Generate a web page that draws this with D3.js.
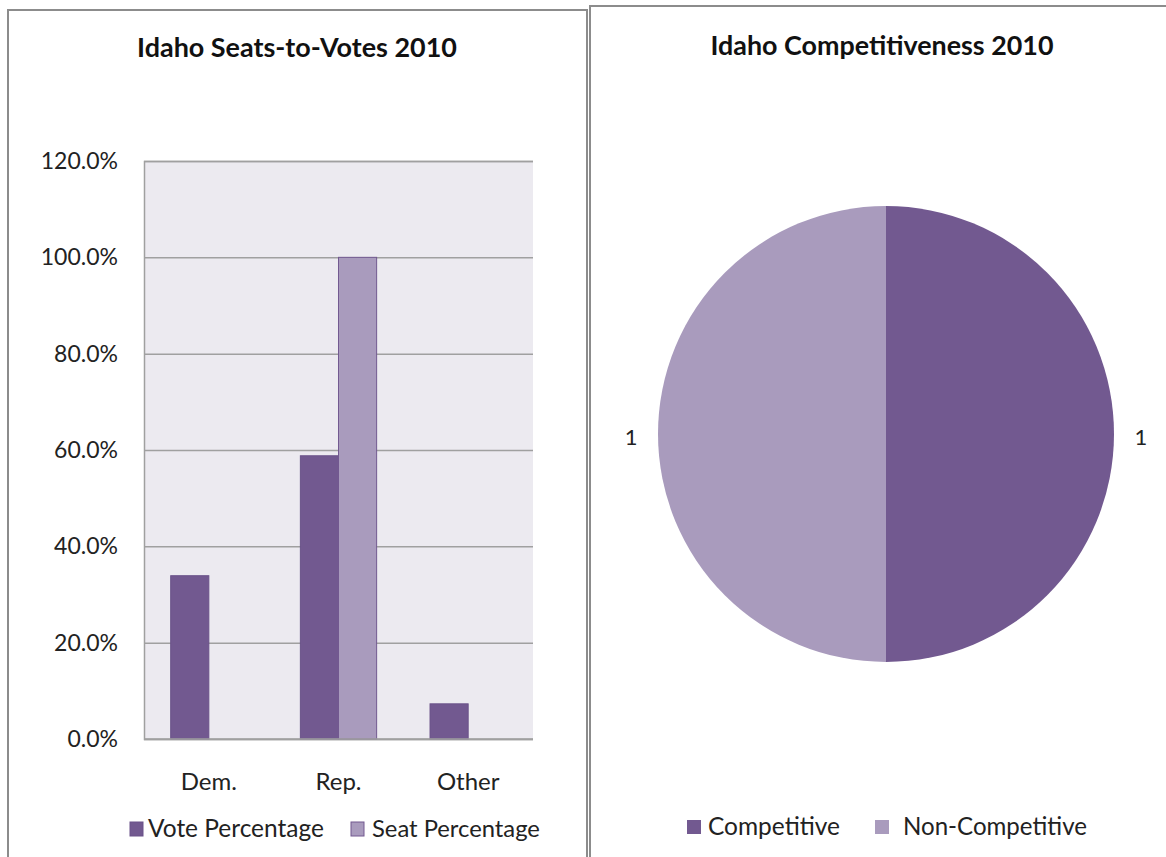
<!DOCTYPE html>
<html>
<head>
<meta charset="utf-8">
<script src="https://cdn.jsdelivr.net/npm/d3@7"></script>
<style>
  html, body { margin: 0; padding: 0; background: #fff; }
  svg { display: block; font-family: Lato, "Open Sans", sans-serif; }
</style>
</head>
<body>
<svg id="chart" width="1166" height="857"></svg>
<script>
// ---- data ----
const barTitle = "Idaho Seats-to-Votes 2010";
const pieTitle = "Idaho Competitiveness 2010";
const categories = ["Dem.", "Rep.", "Other"];
const seriesNames = ["Vote Percentage", "Seat Percentage"];
const votePercentage = [33.9, 58.8, 7.3];
const seatPercentage = [0, 100, 0];
const yTicks = [0, 20, 40, 60, 80, 100, 120];
const pieLabels = ["Competitive", "Non-Competitive"];
const pieValues = [1, 1];

const colors = ["#725990", "#A99BBD"];
const strokes = ["#6a5289", "#725990"];

const svg = d3.select("#chart");

function fit(sel, target) {
  const node = sel.node();
  let fs = parseFloat(sel.attr("font-size"));
  const w = node.getComputedTextLength();
  if (w > 0) sel.attr("font-size", (fs * target / w).toFixed(2));
  return sel;
}

// ---- panel borders ----
svg.append("rect").attr("x", 8).attr("y", 10).attr("width", 579).attr("height", 870)
  .attr("fill", "#fff").attr("stroke", "#8c8c8c").attr("stroke-width", 2);
svg.append("rect").attr("x", 590).attr("y", 6).attr("width", 600).attr("height", 880)
  .attr("fill", "#fff").attr("stroke", "#8c8c8c").attr("stroke-width", 2);

// ---- bar chart ----
const plot = { left: 144, right: 533, top: 161, bottom: 739 };
const x0 = d3.scaleBand().domain(categories).range([plot.left, plot.right]).paddingInner(0).paddingOuter(0);
const x1 = d3.scaleBand().domain(seriesNames).range([0, x0.bandwidth() * 0.5882]);
const y = d3.scaleLinear().domain([0, 120]).range([plot.bottom, plot.top]);

svg.append("rect").attr("x", plot.left).attr("y", plot.top)
  .attr("width", plot.right - plot.left).attr("height", plot.bottom - plot.top)
  .attr("fill", "#ECEAF0");

const yAxis = d3.axisLeft(y).tickValues(yTicks)
  .tickSize(-(plot.right - plot.left)).tickPadding(26)
  .tickFormat(d => d.toFixed(1) + "%");
const gy = svg.append("g").attr("transform", `translate(${plot.left},0)`).call(yAxis);
gy.select(".domain").attr("stroke", "#a0a0a0").attr("stroke-width", 1.5);
gy.selectAll(".tick line").attr("stroke", "#a0a0a0").attr("stroke-width", 1.5);
gy.selectAll(".tick text").attr("font-size", 23).attr("fill", "#222")
  .attr("font-family", "Lato, sans-serif");

const groupOffset = (x0.bandwidth() - x1.range()[1]) / 2;
const barData = [];
categories.forEach((c, i) => {
  [votePercentage, seatPercentage].forEach((arr, j) => {
    if (arr[i] > 0) barData.push({ c, s: seriesNames[j], v: arr[i], j });
  });
});
svg.append("g").selectAll("rect").data(barData).join("rect")
  .attr("x", d => x0(d.c) + groupOffset + x1(d.s))
  .attr("y", d => y(d.v))
  .attr("width", x1.bandwidth())
  .attr("height", d => y(0) - y(d.v))
  .attr("fill", d => colors[d.j])
  .attr("stroke", d => strokes[d.j]).attr("stroke-width", 1);

// baseline
svg.append("line").attr("x1", plot.left).attr("x2", plot.right)
  .attr("y1", y(0)).attr("y2", y(0)).attr("stroke", "#a0a0a0").attr("stroke-width", 1.5);

const xAxis = d3.axisBottom(x0).tickSize(0).tickPadding(34);
const gx = svg.append("g").attr("transform", `translate(0,${plot.bottom})`).call(xAxis);
gx.select(".domain").remove();
gx.selectAll(".tick text").attr("font-size", 24).attr("fill", "#222")
  .attr("font-family", "Lato, sans-serif");

// bar title
fit(svg.append("text").attr("x", 297).attr("y", 57).attr("text-anchor", "middle")
  .attr("font-size", 20).attr("font-weight", "bold").attr("fill", "#111").text(barTitle), 320);

// bar legend
const legBar = [
  { name: seriesNames[0], sx: 130, tx: 148, tw: 176 },
  { name: seriesNames[1], sx: 351, tx: 372, tw: 168 }
];
legBar.forEach((d, i) => {
  svg.append("rect").attr("x", d.sx).attr("y", 822).attr("width", 13).attr("height", 14)
    .attr("fill", colors[i]).attr("stroke", strokes[i]).attr("stroke-width", 1);
  fit(svg.append("text").attr("x", d.tx).attr("y", 837).attr("font-size", 22)
    .attr("fill", "#222").text(d.name), d.tw);
});

// ---- pie chart ----
const cx = 886, cy = 434, r = 228;
const pie = d3.pie().sort(null).value(d => d)(pieValues);
const arc = d3.arc().innerRadius(0).outerRadius(r);
const gp = svg.append("g").attr("transform", `translate(${cx},${cy})`);
gp.selectAll("path").data(pie).join("path")
  .attr("d", arc).attr("fill", (d, i) => colors[i]);

const labelArc = d3.arc().innerRadius(r + 27).outerRadius(r + 27);
gp.selectAll("text.lbl").data(pie).join("text").attr("class", "lbl")
  .attr("x", d => labelArc.centroid(d)[0])
  .attr("y", d => labelArc.centroid(d)[1] + 5)
  .attr("text-anchor", "middle").attr("dominant-baseline", "middle")
  .attr("font-size", 22).attr("fill", "#222").text(d => d.value);

// pie title
fit(svg.append("text").attr("x", 882).attr("y", 55).attr("text-anchor", "middle")
  .attr("font-size", 20).attr("font-weight", "bold").attr("fill", "#111").text(pieTitle), 343);

// pie legend
const legPie = [
  { name: pieLabels[0], sx: 687, tx: 708, tw: 132 },
  { name: pieLabels[1], sx: 875, tx: 903, tw: 184 }
];
legPie.forEach((d, i) => {
  svg.append("rect").attr("x", d.sx).attr("y", 820).attr("width", 14).attr("height", 14)
    .attr("fill", colors[i]);
  fit(svg.append("text").attr("x", d.tx).attr("y", 835).attr("font-size", 22)
    .attr("fill", "#222").text(d.name), d.tw);
});
</script>
</body>
</html>
